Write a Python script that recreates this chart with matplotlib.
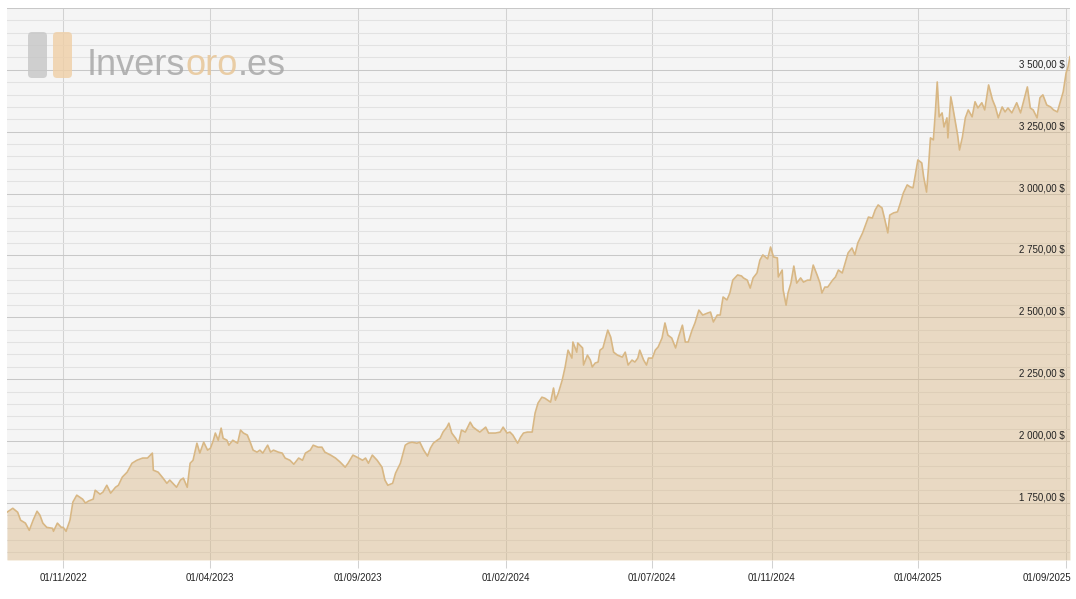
import matplotlib
matplotlib.use('Agg')
import matplotlib.pyplot as plt
import matplotlib.transforms as mtransforms
from matplotlib.patches import FancyBboxPatch
from matplotlib import font_manager
import pandas as pd

W, H = 1076, 599

# day offsets counted from 01/11/2022 and gold price in USD
days_a = [-58, -52, -47, -44, -39, -35, -31, -27, -24, -21, -17, -11, -10, -6, -2,
          0, 3, 7, 10, 14, 20, 23, 26, 31, 33, 38, 41, 45, 49, 54, 57, 61, 66, 71,
          76, 82, 87, 92, 93, 98, 103, 107, 110, 117, 121, 124, 128]
price_a = [1712, 1728, 1712, 1680, 1668, 1639, 1680, 1716, 1700, 1668, 1651, 1647, 1635, 1668, 1651,
           1651, 1635, 1680, 1753, 1781, 1765, 1749, 1757, 1765, 1801, 1785, 1793, 1821, 1789, 1813,
           1821, 1854, 1874, 1910, 1922, 1931, 1931, 1951, 1882, 1874, 1850, 1829, 1842, 1813, 1842,
           1850, 1813]

days_b = [131, 134, 138, 141, 145, 149, 152, 155, 157, 160, 163, 165, 169, 171, 175,
          180, 183, 186, 190, 193, 196, 200, 203, 206, 211, 214, 217, 222, 226, 229,
          234, 238, 243, 247, 250, 255, 258, 263, 267, 270, 276, 281, 286, 291, 294,
          299, 303, 309, 312, 315, 319, 324]
price_b = [1910, 1922, 1991, 1951, 1995, 1963, 1971, 2003, 2032, 2003, 2052, 2011, 2003, 1983, 2003,
           1991, 2044, 2032, 2024, 1995, 1963, 1955, 1963, 1951, 1983, 1955, 1963, 1955, 1951, 1931,
           1922, 1906, 1931, 1922, 1951, 1963, 1983, 1975, 1975, 1955, 1943, 1931, 1914, 1894, 1910,
           1943, 1935, 1922, 1931, 1910, 1943, 1922]

days_c = [329, 332, 335, 340, 343, 348, 353, 356, 360, 365, 368, 372, 376, 379, 382,
          386, 389, 392, 396, 398, 401, 405, 408, 411, 415, 420, 423, 427, 430, 436,
          439, 443, 446, 451, 454, 458, 461, 464, 469, 472, 475, 479, 484, 487, 490,
          494, 497, 503, 506, 508, 511, 515]
price_c = [1894, 1842, 1821, 1829, 1870, 1910, 1983, 1991, 1995, 1991, 1995, 1963, 1939, 1971, 1991,
           2003, 2011, 2036, 2056, 2072, 2032, 2011, 1991, 2044, 2036, 2076, 2056, 2044, 2036, 2056,
           2032, 2032, 2032, 2036, 2056, 2032, 2036, 2024, 1991, 2015, 2032, 2036, 2036, 2113, 2153,
           2177, 2173, 2157, 2214, 2165, 2194, 2246]

days_d = [518, 521, 525, 526, 530, 531, 536, 537, 541, 544, 546, 549, 552, 554, 557,
          562, 565, 568, 572, 577, 580, 583, 587, 590, 593, 595, 599, 602, 604, 608,
          611, 614, 618, 621, 624, 628, 632, 635, 639, 642, 645, 649, 652, 656, 660,
          665, 668, 671, 675, 678, 681, 685, 688, 691, 696]
price_d = [2299, 2367, 2335, 2400, 2359, 2396, 2376, 2307, 2347, 2327, 2299, 2315, 2319, 2367, 2376,
           2448, 2420, 2359, 2347, 2339, 2359, 2307, 2327, 2319, 2335, 2367, 2327, 2307, 2335, 2335,
           2367, 2380, 2416, 2477, 2428, 2416, 2376, 2420, 2468, 2400, 2400, 2448, 2477, 2529, 2509,
           2517, 2521, 2481, 2509, 2509, 2582, 2570, 2598, 2650, 2671]

days_e = [700, 702, 706, 709, 712, 716, 719, 722, 727, 730, 733, 737, 738, 742, 743,
          746, 748, 751, 754, 757, 761, 764, 768, 771, 774, 778, 781, 783, 786, 789,
          794, 797, 800, 804, 807, 810, 814, 817, 820, 825, 828, 831, 835, 838, 841,
          845, 848, 851, 853, 857, 861, 864, 867, 871, 874, 877]
price_e = [2667, 2659, 2650, 2618, 2659, 2679, 2731, 2752, 2736, 2784, 2744, 2740, 2663, 2691, 2610,
           2549, 2598, 2638, 2707, 2638, 2659, 2642, 2650, 2650, 2711, 2671, 2638, 2598, 2622, 2622,
           2650, 2663, 2691, 2679, 2719, 2760, 2780, 2752, 2800, 2841, 2873, 2905, 2901, 2934, 2954,
           2942, 2893, 2841, 2913, 2922, 2926, 2962, 3002, 3035, 3027, 3023]

days_f = [879, 882, 886, 888, 891, 893, 895, 898, 900, 902, 904, 907, 909, 912, 913,
          916, 918, 923, 925, 928, 931, 934, 938, 941, 944, 948, 951, 955, 959, 962,
          965, 969, 972, 975, 979, 984, 988, 991, 995, 998, 1001, 1005, 1008, 1011, 1015,
          1019, 1022, 1026, 1029, 1032, 1035, 1037, 1039]
price_f = [3067, 3136, 3124, 3067, 3006, 3108, 3225, 3217, 3326, 3451, 3310, 3326, 3269, 3306, 3225,
           3391, 3350, 3237, 3176, 3229, 3306, 3338, 3310, 3371, 3346, 3367, 3338, 3439, 3379, 3350,
           3306, 3350, 3330, 3346, 3326, 3367, 3326, 3371, 3431, 3346, 3338, 3306, 3387, 3399, 3358,
           3350, 3338, 3330, 3371, 3411, 3488, 3512, 3553]

tick_dates = ['2022-11-01', '2023-04-01', '2023-09-01', '2024-02-01',
              '2024-07-01', '2024-11-01', '2025-04-01', '2025-09-01']
price_ticks = [1750, 2000, 2250, 2500, 2750, 3000, 3250, 3500]

days = days_a + days_b + days_c + days_d + days_e + days_f
price = price_a + price_b + price_c + price_d + price_e + price_f
dates = pd.Timestamp('2022-11-01') + pd.to_timedelta(days, unit='D')

fig = plt.figure(figsize=(W / 100, H / 100), dpi=100, facecolor='white')
ax = fig.add_axes([7 / W, 1 - 560 / H, (1070 - 7) / W, (560 - 8) / H])
ax.set_facecolor('#f5f5f5')

y_lo, y_hi = 1519, 3750
ax.fill_between(dates, price, y_lo, color='#d9b47f', alpha=0.42, lw=0, zorder=2)
ax.plot(dates, price, color='#d8b784', lw=1.2, zorder=3)

ax.set_xlim(dates[0], dates[-1])
ax.set_ylim(y_lo, y_hi)

ax.set_yticks(list(range(1750, 3751, 250)))
ax.set_yticks(list(range(1550, 3750, 50)), minor=True)
ax.set_xticks(pd.to_datetime(tick_dates))
ax.set_xticklabels([pd.Timestamp(d).strftime('%d/%m/%Y') for d in tick_dates])

ax.set_axisbelow(True)
ax.yaxis.grid(True, which='major', color='#c8c8c8', lw=0.75)
ax.yaxis.grid(True, which='minor', color='#e2e2e2', lw=0.75)
ax.xaxis.grid(True, color='#d2d2d2', lw=0.75)
ax.tick_params(axis='y', which='both', length=0, labelleft=False)
ax.tick_params(axis='x', length=5.8, width=0.75, color='#d2d2d2', pad=3.5,
               labelsize=7, labelcolor='#222222')
xlabels = ax.get_xticklabels()
for lbl in xlabels:
    lbl.set_family(['Liberation Sans', 'DejaVu Sans'])
# the last date label is pushed inside the figure, right aligned
xlabels[-1].set_horizontalalignment('right')
xlabels[-1].set_transform(xlabels[-1].get_transform() +
                          mtransforms.ScaledTranslation(5 / 100, 0, fig.dpi_scale_trans))
for s in ax.spines.values():
    s.set_visible(False)

# price labels sit just above their gridline, right aligned inside the plot
trans = mtransforms.blended_transform_factory(ax.transAxes, ax.transData)
for v in price_ticks:
    txt = '{:,.2f}'.format(v).replace(',', ' ').replace('.', ',') + ' $'
    ax.annotate(txt, xy=(1, v), xycoords=trans, xytext=(-5, 2.5),
                textcoords='offset pixels', ha='right', va='baseline',
                fontsize=7, color='#222222', family=['Liberation Sans', 'DejaVu Sans'],
                zorder=5)

# watermark logo (pixel coordinates, origin bottom-left)
ident = mtransforms.IdentityTransform()
for x0, col in [(28, '#c6c6c6'), (53, '#efcfa6')]:
    fig.patches.append(FancyBboxPatch((x0, H - 78), 19, 46,
                                      boxstyle='round,pad=0,rounding_size=4',
                                      transform=ident, fc=col, ec='none', alpha=0.8,
                                      zorder=10))

names = {f.name for f in font_manager.fontManager.ttflist}
logo_font = 'Liberation Sans Narrow' if 'Liberation Sans Narrow' in names else 'Liberation Sans'
logo_size = 33 if logo_font == 'Liberation Sans Narrow' else 26
renderer = fig.canvas.get_renderer()
x = 87
for part, col in [('Invers', '#a8a8a8'), ('oro', '#e8c697'), ('.es', '#a8a8a8')]:
    t = fig.text(x, H - 75, part, transform=ident, fontsize=logo_size,
                 family=logo_font, color=col, alpha=0.85, va='baseline', zorder=10)
    x = t.get_window_extent(renderer).x1

fig.savefig('out.png', dpi=100, facecolor='white')
